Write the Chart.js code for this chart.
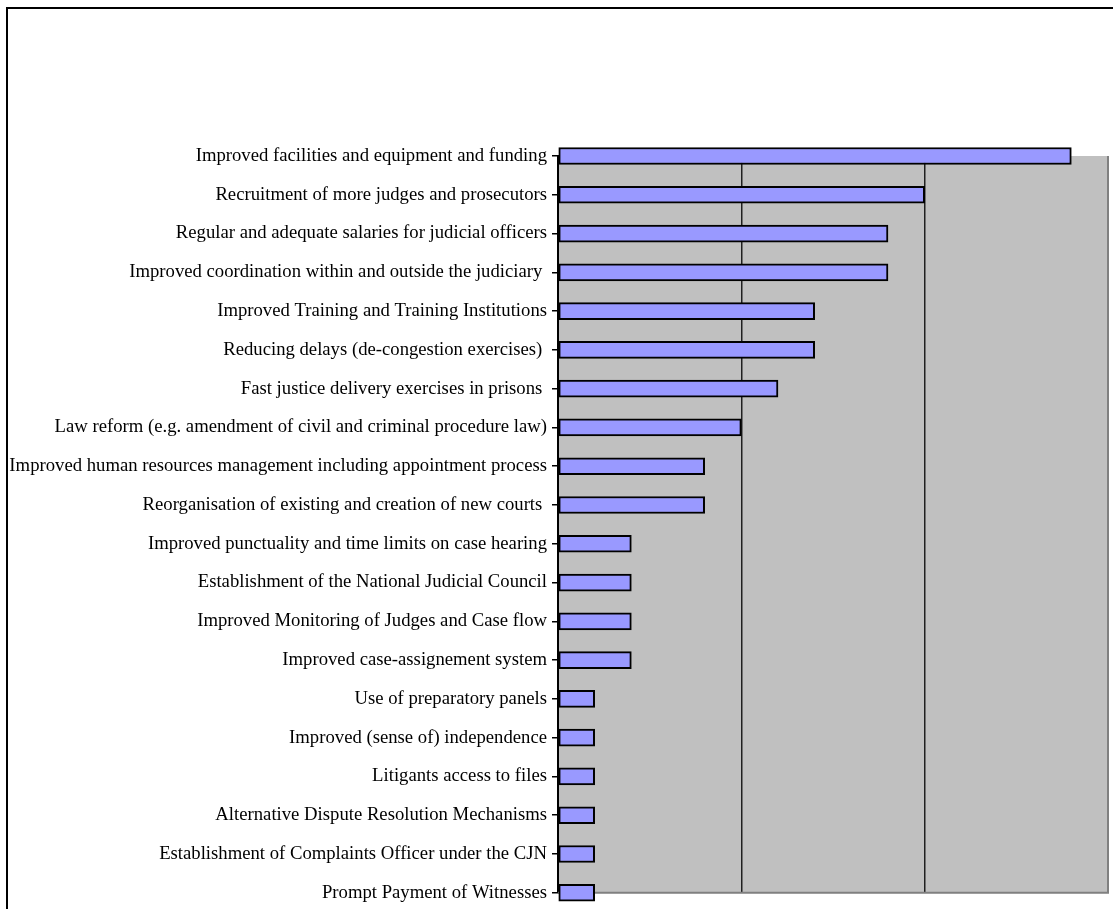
<!DOCTYPE html>
<html>
<head>
<meta charset="utf-8">
<script src="https://cdn.jsdelivr.net/npm/chart.js@4/dist/chart.umd.min.js"></script>
<style>
  html, body { margin: 0; padding: 0; background: #ffffff; overflow: hidden; }
  #wrap { position: relative; width: 1113px; height: 909px; }
</style>
</head>
<body>
<div id="wrap"><canvas id="chart" width="1113" height="909"></canvas></div>
<script>
// Measures that would speed up justice delivery (number of mentions)
const measures = [
  "Improved facilities and equipment and funding",
  "Recruitment of more judges and prosecutors",
  "Regular and adequate salaries for judicial officers",
  "Improved coordination within and outside the judiciary ",
  "Improved Training and Training Institutions",
  "Reducing delays (de-congestion exercises) ",
  "Fast justice delivery exercises in prisons ",
  "Law reform (e.g. amendment of civil and criminal procedure law)",
  "Improved human resources management including appointment process",
  "Reorganisation of existing and creation of new courts ",
  "Improved punctuality and time limits on case hearing",
  "Establishment of the National Judicial Council",
  "Improved Monitoring of Judges and Case flow",
  "Improved case-assignement system",
  "Use of preparatory panels",
  "Improved (sense of) independence",
  "Litigants access to files",
  "Alternative Dispute Resolution Mechanisms",
  "Establishment of Complaints Officer under the CJN",
  "Prompt Payment of Witnesses"
];
const mentions = [14, 10, 9, 9, 7, 7, 6, 5, 4, 4, 2, 2, 2, 2, 1, 1, 1, 1, 1, 1];
const axisMin = 0;
const axisMax = 15;
const axisStep = 5;

// Grey plot background with a darker right/bottom edge, plus the outer frame
const plotFrame = {
  id: 'plotFrame',
  beforeDatasetsDraw(chart) {
    const { ctx, chartArea: a } = chart;
    ctx.save();
    ctx.strokeStyle = '#808080';
    ctx.lineWidth = 2;
    ctx.beginPath();
    ctx.moveTo(a.right, a.top);
    ctx.lineTo(a.right, a.bottom);
    ctx.lineTo(a.left, a.bottom);
    ctx.stroke();
    ctx.restore();
  },
  beforeDraw(chart) {
    const { ctx, chartArea: a } = chart;
    ctx.save();
    ctx.fillStyle = '#C0C0C0';
    ctx.fillRect(a.left, a.top, a.right - a.left, a.bottom - a.top);
    ctx.strokeStyle = '#000000';
    ctx.lineWidth = 2;
    ctx.beginPath();
    ctx.moveTo(7, 909);
    ctx.lineTo(7, 8);
    ctx.lineTo(1113, 8);
    ctx.stroke();
    ctx.restore();
  }
};

new Chart(document.getElementById('chart'), {
  type: 'bar',
  data: {
    labels: measures,
    datasets: [{
      data: mentions,
      backgroundColor: '#9999FF',
      borderColor: '#000000',
      borderWidth: 2,
      borderSkipped: false,
      barThickness: 17,
      clip: false
    }]
  },
  options: {
    indexAxis: 'y',
    responsive: false,
    animation: false,
    layout: { padding: { top: 156, right: 5, bottom: 13, left: 0 } },
    plugins: { legend: { display: false }, tooltip: { enabled: false } },
    scales: {
      x: {
        min: axisMin,
        max: axisMax,
        ticks: { display: false, stepSize: axisStep },
        grid: {
          drawTicks: false,
          color: ctx => (ctx.tick && (ctx.tick.value === axisMin || ctx.tick.value === axisMax)) ? 'rgba(0,0,0,0)' : '#202020',
          lineWidth: 1.5
        },
        border: { display: false },
        afterFit(scale) { scale.height = 0; }
      },
      y: {
        offset: false,
        ticks: {
          color: '#000000',
          font: { family: 'Liberation Serif', size: 18.7 },
          padding: 5,
          autoSkip: false
        },
        grid: { offset: false, drawOnChartArea: false, drawTicks: true, tickLength: 6, color: '#000000', lineWidth: 1.5 },
        border: { display: true, color: '#000000', width: 2 },
        afterFit(scale) { scale.width = 558; }
      }
    }
  },
  plugins: [plotFrame]
});
</script>
</body>
</html>
